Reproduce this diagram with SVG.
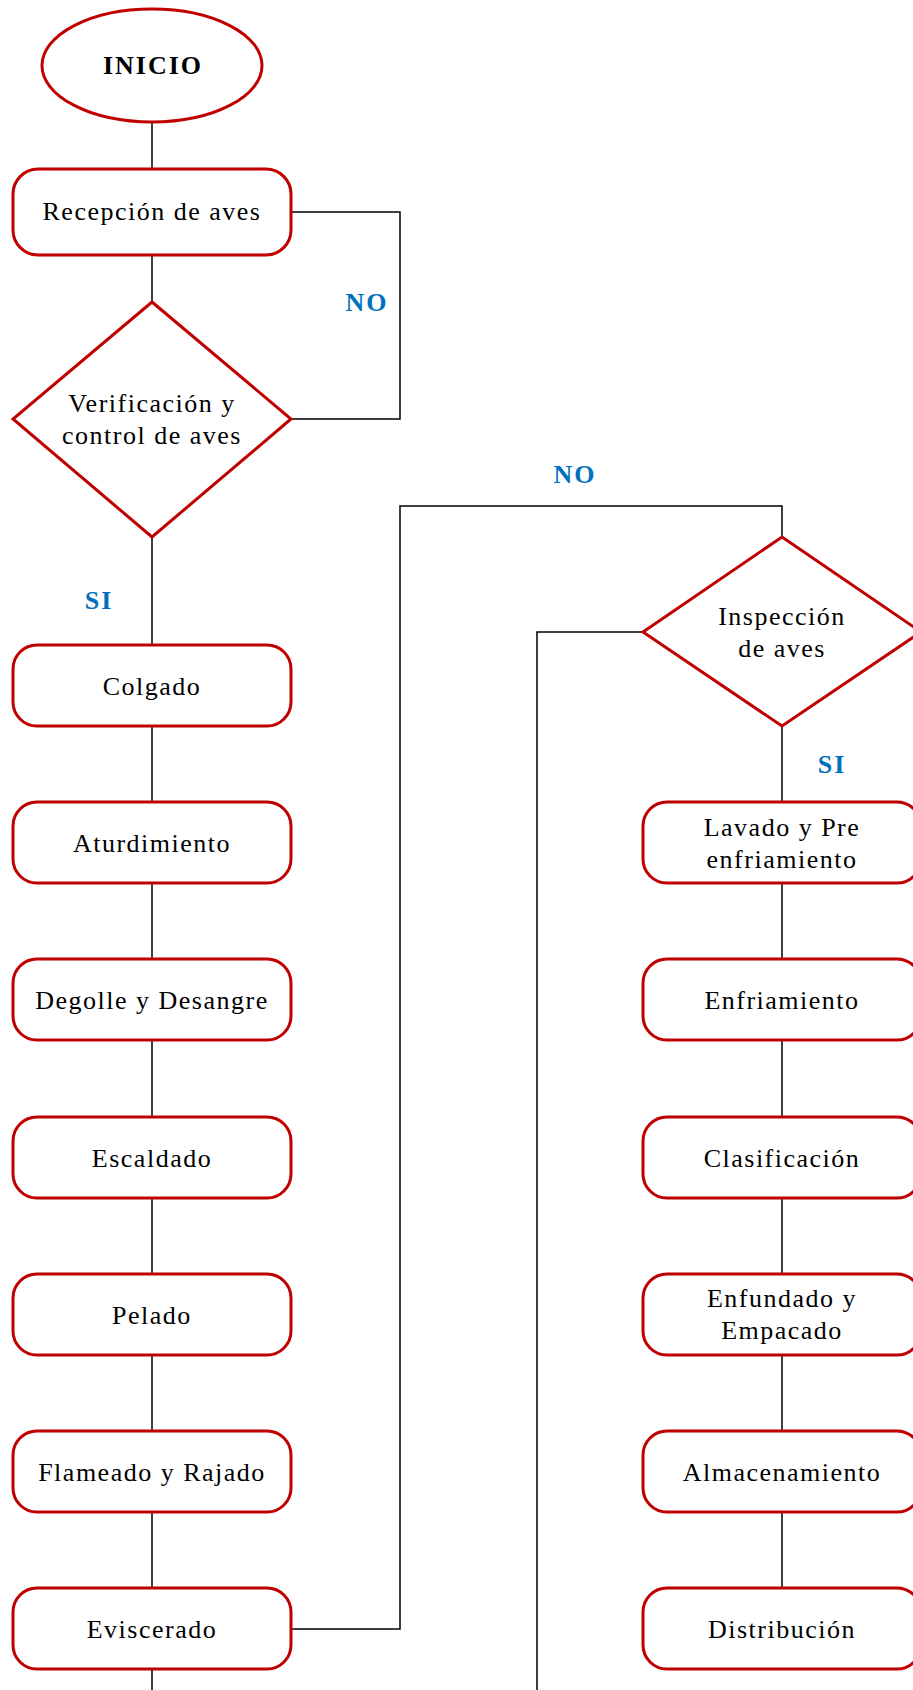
<svg xmlns="http://www.w3.org/2000/svg" width="913" height="1690" viewBox="0 0 913 1690">
<style>
.shape{fill:#fff;stroke:#C00000;stroke-width:3}
.t{font-family:"Liberation Serif","Times New Roman",serif;font-size:26px;letter-spacing:1.5px;fill:#000;text-anchor:middle}
.b{font-family:"Liberation Serif","Times New Roman",serif;font-size:26px;font-weight:bold;letter-spacing:2px;text-anchor:middle}
.lbl{font-family:"Liberation Serif","Times New Roman",serif;font-size:26px;font-weight:bold;letter-spacing:2px;fill:#0070C0;text-anchor:middle}
.c{fill:none;stroke:#000;stroke-width:1.5}
</style>
<rect width="913" height="1690" fill="#fff"/>
<g id="connectors">
<path class="c" d="M152 122V169"/>
<path class="c" d="M152 255V302"/>
<path class="c" d="M291 212H400V419H291"/>
<path class="c" d="M152 537V645"/>
<path class="c" d="M152 726V802"/>
<path class="c" d="M152 883V959"/>
<path class="c" d="M152 1040V1117"/>
<path class="c" d="M152 1198V1274"/>
<path class="c" d="M152 1355V1431"/>
<path class="c" d="M152 1512V1588"/>
<path class="c" d="M152 1669V1690"/>
<path class="c" d="M291 1629H400V506H782V537"/>
<path class="c" d="M537 1690V632H643"/>
<path class="c" d="M782 726V802"/>
<path class="c" d="M782 883V959"/>
<path class="c" d="M782 1040V1117"/>
<path class="c" d="M782 1198V1274"/>
<path class="c" d="M782 1355V1431"/>
<path class="c" d="M782 1512V1588"/>
<text class="lbl" x="367" y="311">NO</text>
<text class="lbl" x="99" y="609">SI</text>
<text class="lbl" x="575" y="483">NO</text>
<text class="lbl" x="832" y="773">SI</text>
</g>
<g id="inicio">
<ellipse class="shape" cx="152" cy="65.5" rx="110" ry="56.5"/>
<text class="b" x="153" y="74">INICIO</text>
</g>
<g id="recepcion">
<rect class="shape" x="13" y="169" width="278" height="86" rx="25"/>
<text class="t" x="152" y="220">Recepción de aves</text>
</g>
<g id="verificacion">
<polygon class="shape" points="152,302 291,419 152,537 13,419"/>
<text class="t" x="152" y="412">Verificación y</text>
<text class="t" x="152" y="444">control de aves</text>
</g>
<g id="colgado">
<rect class="shape" x="13" y="645" width="278" height="81" rx="24"/>
<text class="t" x="152" y="695">Colgado</text>
</g>
<g id="aturdimiento">
<rect class="shape" x="13" y="802" width="278" height="81" rx="24"/>
<text class="t" x="152" y="852">Aturdimiento</text>
</g>
<g id="degolle">
<rect class="shape" x="13" y="959" width="278" height="81" rx="24"/>
<text class="t" x="152" y="1009">Degolle y Desangre</text>
</g>
<g id="escaldado">
<rect class="shape" x="13" y="1117" width="278" height="81" rx="24"/>
<text class="t" x="152" y="1167">Escaldado</text>
</g>
<g id="pelado">
<rect class="shape" x="13" y="1274" width="278" height="81" rx="24"/>
<text class="t" x="152" y="1324">Pelado</text>
</g>
<g id="flameado">
<rect class="shape" x="13" y="1431" width="278" height="81" rx="24"/>
<text class="t" x="152" y="1481">Flameado y Rajado</text>
</g>
<g id="eviscerado">
<rect class="shape" x="13" y="1588" width="278" height="81" rx="24"/>
<text class="t" x="152" y="1638">Eviscerado</text>
</g>
<g id="inspeccion">
<polygon class="shape" points="782,537 921,632 782,726 643,632"/>
<text class="t" x="782" y="625">Inspección</text>
<text class="t" x="782" y="657">de aves</text>
</g>
<g id="lavado">
<rect class="shape" x="643" y="802" width="278" height="81" rx="24"/>
<text class="t" x="782" y="836">Lavado y Pre</text>
<text class="t" x="782" y="868">enfriamiento</text>
</g>
<g id="enfriamiento">
<rect class="shape" x="643" y="959" width="278" height="81" rx="24"/>
<text class="t" x="782" y="1009">Enfriamiento</text>
</g>
<g id="clasificacion">
<rect class="shape" x="643" y="1117" width="278" height="81" rx="24"/>
<text class="t" x="782" y="1167">Clasificación</text>
</g>
<g id="enfundado">
<rect class="shape" x="643" y="1274" width="278" height="81" rx="24"/>
<text class="t" x="782" y="1307">Enfundado y</text>
<text class="t" x="782" y="1339">Empacado</text>
</g>
<g id="almacenamiento">
<rect class="shape" x="643" y="1431" width="278" height="81" rx="24"/>
<text class="t" x="782" y="1481">Almacenamiento</text>
</g>
<g id="distribucion">
<rect class="shape" x="643" y="1588" width="278" height="81" rx="24"/>
<text class="t" x="782" y="1638">Distribución</text>
</g>
</svg>
